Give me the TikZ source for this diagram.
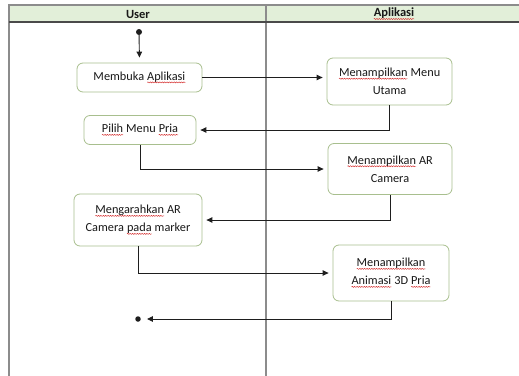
\documentclass[tikz,border=0pt]{standalone}
\usepackage{fontspec}
\setmainfont{Carlito}
\usetikzlibrary{arrows.meta,decorations.pathmorphing}
\definecolor{lanegray}{HTML}{8C8C8C}
\definecolor{headline}{HTML}{4A4A4A}
\definecolor{headfill}{HTML}{E2EFD9}
\definecolor{boxline}{HTML}{A8BF8E}
\definecolor{flow}{HTML}{1E1E1E}
\definecolor{spellred}{HTML}{D42A2A}
% spell-check style red wavy underline (options reset so the enclosing node's style does not leak in)
\newcommand\spl[1]{\tikz[baseline=(w.base), x=1pt, y=1pt]{%
  \node[shape=rectangle, draw=none, fill=none, inner sep=0pt, outer sep=0pt,
        minimum width=0pt, minimum height=0pt, sharp corners] (w) {#1};
  \draw[draw=spellred, line width=0.45pt, sharp corners, decorate,
        decoration={snake, amplitude=0.55pt, segment length=2.4pt}]
    ([yshift=-2.0pt]w.base west) -- ([yshift=-2.0pt]w.base east);}}
\tikzset{
  act/.style={draw=boxline, line width=0.8pt, rounded corners=6pt, fill=white,
    align=center, inner sep=2pt, font=\fontsize{12.3}{18}\selectfont, text=black!90},
  flowline/.style={draw=flow, line width=0.9pt, -{Triangle[length=6pt,width=5.5pt]}, shorten >=4pt},
  dot/.style={circle, fill=flow, inner sep=0pt, minimum size=#1},
  dot/.default=5.5pt,
  lane/.style={draw=lanegray, line width=1.5pt},
  headtext/.style={font=\fontsize{12.5}{14}\selectfont\bfseries, text=black!90}
}
\begin{document}
\begin{tikzpicture}[x=1pt, y=-1pt]
  \useasboundingbox (0,0) rectangle (519,375);
  % swimlane frame and header
  \fill[headfill] (9,5) rectangle (522,22);
  \draw[lane] (9,378) -- (9,5) -- (522,5);
  \draw[lane] (266,5) -- (266,378);
  \draw[draw=headline, line width=1.5pt] (9,22) -- (522,22);
  \node[headtext] (hUser) at (138,14) {User};
  \node[headtext] (hApp) at (394,14) {\spl{Aplikasi}};

  % start and end
  \node[dot=6pt] (start) at (139,32) {};
  \node[dot] (stop) at (138,319) {};

  % activities
  \node[act, minimum width=125pt, minimum height=29pt] (b1) at (139.5,77.5) {Membuka \spl{Aplikasi}};
  \node[act, minimum width=125pt, minimum height=47pt] (b2) at (389.5,81.5) {\spl{Menampilkan} Menu\\Utama};
  \node[act, minimum width=112pt, minimum height=29pt] (b3) at (140,130) {\spl{Pilih} Menu \spl{Pria}};
  \node[act, minimum width=124pt, minimum height=51pt] (b4) at (390,169) {\spl{Menampilkan} AR\\Camera};
  \node[act, minimum width=128pt, minimum height=52pt] (b5) at (138,220) {\spl{Mengarahkan} AR\\Camera \spl{pada} marker};
  \node[act, minimum width=116pt, minimum height=56pt] (b6) at (391,273) {\spl{Menampilkan}\\\spl{Animasi} 3D \spl{Pria}};

  % control flow
  \draw[flowline, shorten >=5pt] (start) -- (b1.north);
  \draw[flowline] (b1.east) -- (b2.west |- b1.east);
  \draw[flowline] (b2.south) |- (b3.east);
  \draw[flowline] (b3.south) |- (b4.west);
  \draw[flowline] (b4.south) |- (b5.east);
  \draw[flowline] (b5.south) |- (b6.west);
  \draw[flowline, shorten >=6pt] (b6.south) |- (stop);
\end{tikzpicture}
\end{document}
